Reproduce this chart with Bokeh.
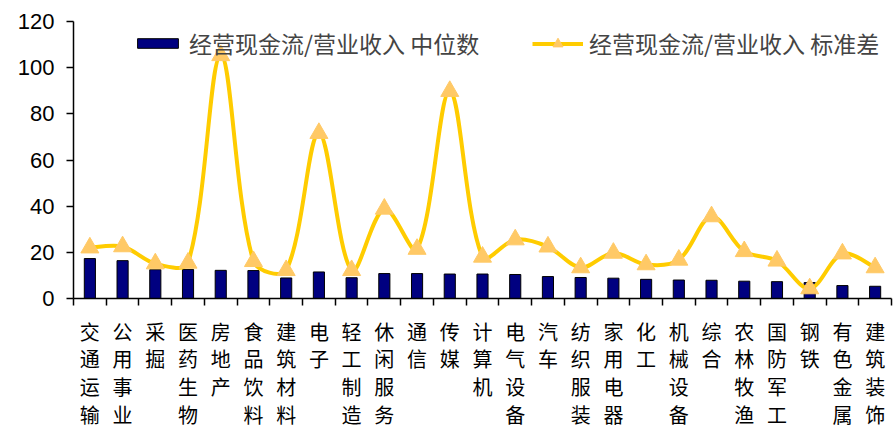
from bokeh.plotting import figure
from bokeh.models import FixedTicker, Legend, LegendItem, Range1d
from bokeh.embed import file_html
from bokeh.resources import INLINE
import math

categories = ["交通运输", "公用事业", "采掘", "医药生物", "房地产", "食品饮料", "建筑材料",
              "电子", "轻工制造", "休闲服务", "通信", "传媒", "计算机", "电气设备", "汽车",
              "纺织服装", "家用电器", "化工", "机械设备", "综合", "农林牧渔", "国防军工",
              "钢铁", "有色金属", "建筑装饰"]
median_vals = [17.3, 16.4, 12.5, 12.6, 12.2, 12.1, 8.9, 11.5, 9.0, 10.8, 10.8, 10.6, 10.6,
               10.4, 9.5, 9.1, 8.8, 8.3, 8.0, 7.9, 7.5, 7.3, 6.9, 5.6, 5.3]
std_vals = [22.0, 22.5, 15.1, 15.4, 105.3, 16.1, 12.2, 71.6, 12.2, 38.8, 21.4, 89.8, 18.0,
            25.5, 22.4, 13.4, 19.7, 14.7, 16.7, 35.5, 20.4, 16.3, 4.3, 19.4, 13.4]
y_ticks = [0, 20, 40, 60, 80, 100, 120]
legend_labels = ["经营现金流/营业收入 中位数", "经营现金流/营业收入 标准差"]

n = len(categories)
xs = list(range(1, n + 1))

W, H = 895, 432
BL, BR, BT, BB = 73, 4, 21, 133
p = figure(width=W, height=H, output_backend="svg", toolbar_location=None,
           x_range=Range1d(0.5, n + 0.5), y_range=Range1d(0, 120),
           min_border_left=BL, min_border_right=BR, min_border_top=BT, min_border_bottom=BB)
p.outline_line_color = None
p.xgrid.visible = False
p.ygrid.visible = False
p.background_fill_color = "white"
p.border_fill_color = "white"

bars = p.vbar(x=xs, top=median_vals, width=0.34, fill_color="#000080",
              line_color="black", line_width=1)

# smoothed curve (chord-length weighted Bezier, like a spreadsheet "smooth line")
sx = (W - BL - BR) / n          # px per x unit (for chord lengths only)
sy = (H - BT - BB) / 120.0      # px per y unit
pts = list(zip(xs, std_vals))

def dist(a, b):
    return math.hypot((a[0] - b[0]) * sx, (a[1] - b[1]) * sy)

x0s, y0s, x1s, y1s, cx0s, cy0s, cx1s, cy1s = [], [], [], [], [], [], [], []
for i in range(n - 1):
    pm = pts[i - 1] if i > 0 else pts[i]
    p0 = pts[i]
    p1 = pts[i + 1]
    p2 = pts[i + 2] if i + 2 < n else pts[i + 1]
    d_m0, d_01, d_12 = dist(pm, p0), dist(p0, p1), dist(p1, p2)
    r0 = d_01 / (d_m0 + d_01) if (d_m0 + d_01) > 0 else 0
    r1 = d_01 / (d_01 + d_12) if (d_01 + d_12) > 0 else 0
    if i == 0:
        r0 = 0.5
    if i + 2 >= n:
        r1 = 0.5
    x0s.append(p0[0]); y0s.append(p0[1]); x1s.append(p1[0]); y1s.append(p1[1])
    cx0s.append(p0[0] + (p1[0] - pm[0]) * r0 / 3.0)
    cy0s.append(p0[1] + (p1[1] - pm[1]) * r0 / 3.0)
    cx1s.append(p1[0] - (p2[0] - p0[0]) * r1 / 3.0)
    cy1s.append(p1[1] - (p2[1] - p0[1]) * r1 / 3.0)

curve = p.bezier(x0=x0s, y0=y0s, x1=x1s, y1=y1s, cx0=cx0s, cy0=cy0s, cx1=cx1s, cy1=cy1s,
                 line_color="#FFCC00", line_width=4)
marks = p.scatter(x=xs, y=std_vals, marker="triangle", size=18, fill_color="#FFC966",
                  line_color="#FFC966")

# axes
xa = p.xaxis[0]
xa.ticker = FixedTicker(ticks=xs, minor_ticks=[i + 0.5 for i in range(0, n + 1)])
xa.major_label_overrides = {x: "\n".join(c) for x, c in zip(xs, categories)}
xa.major_tick_line_color = None
xa.minor_tick_line_color = "black"
xa.minor_tick_line_width = 1.5
xa.minor_tick_in = 0
xa.minor_tick_out = 7
xa.axis_line_color = "black"
xa.axis_line_width = 1.5
xa.major_label_text_font = "Noto Sans CJK SC"
xa.major_label_text_font_size = "20px"
xa.major_label_text_line_height = 0.96
xa.major_label_text_color = "black"
xa.major_label_standoff = 11

ya = p.yaxis[0]
ya.ticker = FixedTicker(ticks=y_ticks)
ya.minor_tick_line_color = None
ya.major_tick_in = 0
ya.major_tick_out = 7
ya.major_tick_line_width = 1.5
ya.axis_line_width = 1.5
ya.major_label_text_font = "Liberation Sans"
ya.major_label_text_font_size = "22px"
ya.major_label_text_color = "black"
ya.major_label_standoff = 12

leg1 = Legend(items=[LegendItem(label=legend_labels[0], renderers=[bars])],
              location=(59, 238), glyph_width=51, glyph_height=12, padding=0, margin=0,
              border_line_color=None, background_fill_alpha=0,
              label_text_font="Noto Sans CJK SC", label_text_font_size="23px",
              label_standoff=6)
leg2 = Legend(items=[LegendItem(label=legend_labels[1], renderers=[curve, marks])],
              location=(459, 238), glyph_width=51, glyph_height=25, padding=0, margin=0,
              border_line_color=None, background_fill_alpha=0,
              label_text_font="Noto Sans CJK SC", label_text_font_size="23px",
              label_standoff=6)
p.add_layout(leg1, "center")
p.add_layout(leg2, "center")

open("out.html", "w").write(file_html(p, INLINE))
